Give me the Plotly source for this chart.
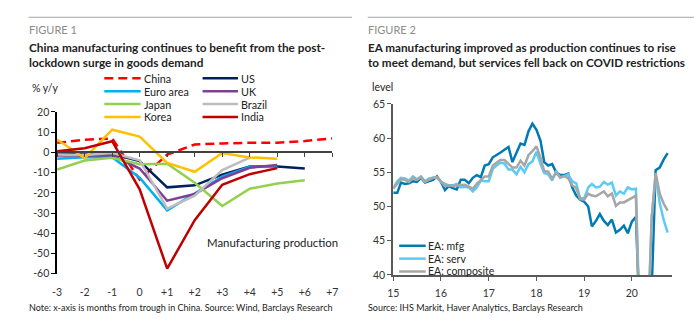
import pandas as pd
import plotly.graph_objects as go

W, H = 700, 324
FONT = "Lato"
TXT = "#222222"


def fx(x):
    """pixel column -> paper x"""
    return x / W


def fy(y):
    """pixel row -> paper y"""
    return 1 - y / H


# ---------------- Figure 1: manufacturing production, % y/y ----------------
rel_months = [-3, -2, -1, 0, 1, 2, 3, 4, 5, 6, 7]
rel_labels = ["-3", "-2", "-1", "0", "+1", "+2", "+3", "+4", "+5", "+6", "+7"]
pct_ticks = [-60, -50, -40, -30, -20, -10, 0, 10, 20]
pct_labels = ["-60", "-50", "-40", "-30", "-20", "-10", "0", "10", "20"]

china = [4.7, 6.2, 6.9, -13.5, -1.1, 3.9, 4.4, 4.8, 4.8, 5.6, 6.9]
us = [-0.5, -1.1, -0.8, -4.3, -17.3, -16.3, -11.0, -7.0, -7.0, -8.0]
euro_area = [-3.2, -2.4, -2.4, -12.5, -28.7, -20.5, -12.0, -7.1, -7.2]
uk = [-1.6, -1.6, -1.6, -8.0, -23.9, -20.6, -12.8, -7.6, -6.3]
japan = [-8.5, -4.0, -2.7, -5.9, -5.6, -15.0, -26.5, -18.0, -15.4, -13.8]
brazil = [-1.1, -1.3, -0.3, -3.9, -27.8, -21.4, -8.8, -2.6]
korea = [6.4, -2.9, 11.2, 7.8, -5.2, -9.6, -0.3, -2.5, -3.1]
india = [0.5, 2.0, 5.5, -18.3, -57.5, -33.5, -16.0, -10.8, -7.8]

fig1_series = [
    ("China", china, "#FF0000", "9px,5px"),
    ("US", us, "#002060", "solid"),
    ("Euro area", euro_area, "#00B0F0", "solid"),
    ("UK", uk, "#7F3F98", "solid"),
    ("Japan", japan, "#92D050", "solid"),
    ("Brazil", brazil, "#BDBDBD", "solid"),
    ("Korea", korea, "#FFC000", "solid"),
    ("India", india, "#C00000", "solid"),
]

# ---------------- Figure 2: EA PMIs, level ----------------
pmi_dates = pd.date_range("2015-01-01", periods=70, freq="MS")

ea_mfg = [
    52.0, 52.0, 53.5, 53.3, 53.4, 53.7, 53.6, 54.2, 53.5, 53.7, 53.9, 54.4,
    53.6, 52.4, 53.0, 52.7, 52.5, 53.9, 53.9, 53.4, 54.2, 54.6, 54.3, 56.0,
    56.2, 57.2, 57.5, 57.9, 58.3, 58.7, 56.5, 57.9, 59.2, 59.0, 61.0, 62.1,
    61.2, 59.6, 56.5, 56.0, 56.2, 55.0, 54.6, 54.6, 54.8, 52.8, 51.6, 51.0,
    50.7, 50.0, 47.1, 47.9, 48.9, 47.9, 47.3, 48.1, 46.2, 46.6, 47.2, 46.1,
    47.8, 48.5, 38.5, 18.2, 31.0, 38.0, 55.3, 55.7, 56.9, 57.8,
]
ea_serv = [
    52.7, 53.7, 54.2, 54.1, 53.8, 54.4, 54.0, 54.4, 53.7, 54.1, 54.2, 54.2,
    53.6, 53.3, 53.1, 53.1, 53.3, 52.8, 52.9, 52.8, 52.2, 52.8, 53.8, 53.7,
    53.7, 55.5, 56.0, 56.4, 56.3, 55.4, 55.4, 54.7, 55.8, 55.0, 56.2, 56.6,
    58.0, 56.2, 54.9, 54.7, 53.8, 55.2, 54.2, 54.4, 54.7, 53.7, 53.4, 51.2,
    51.2, 52.8, 53.3, 52.8, 52.9, 53.6, 53.2, 53.5, 51.6, 52.2, 51.9, 52.8,
    52.5, 52.6, 26.4, 12.0, 30.5, 48.3, 54.7, 50.5, 48.0, 46.2,
]
ea_comp = [
    52.6, 53.3, 54.0, 53.9, 53.6, 54.2, 53.9, 54.3, 53.6, 53.9, 54.2, 54.3,
    53.6, 53.0, 53.1, 53.0, 53.1, 53.1, 53.2, 52.9, 52.6, 53.3, 53.9, 54.4,
    54.4, 56.0, 56.4, 56.8, 56.8, 56.3, 55.7, 55.7, 56.7, 56.0, 57.5, 58.1,
    58.8, 57.1, 55.2, 55.1, 54.1, 54.9, 54.3, 54.5, 54.1, 53.1, 52.7, 51.1,
    51.0, 51.9, 51.6, 51.5, 51.8, 52.2, 51.5, 51.9, 50.1, 50.6, 50.6, 50.9,
    51.3, 51.6, 29.7, 13.6, 31.9, 48.5, 54.9, 51.9, 50.4, 49.4,
]
year_ticks = pd.date_range("2015-01-01", periods=6, freq="YS")
year_labels = ["15", "16", "17", "18", "19", "20"]

fig2_series = [
    ("EA: mfg", ea_mfg, "#007AB2"),
    ("EA: serv", ea_serv, "#5BCBF5"),
    ("EA: composite", ea_comp, "#A6A6A6"),
]

fig = go.Figure()

for name, vals, color, dash in fig1_series:
    fig.add_trace(go.Scatter(
        x=rel_months[:len(vals)], y=vals, mode="lines", name=name,
        line=dict(color=color, width=2.5, dash=dash),
        xaxis="x", yaxis="y", showlegend=False,
    ))

for name, vals, color in fig2_series:
    fig.add_trace(go.Scatter(
        x=pmi_dates, y=vals, mode="lines", name=name,
        line=dict(color=color, width=2.5),
        xaxis="x2", yaxis="y2", showlegend=False,
    ))

# empty trace so the zero-crossing x axis gets drawn
fig.add_trace(go.Scatter(x=[None], y=[None], xaxis="x3", yaxis="y",
                         showlegend=False, hoverinfo="skip"))

# plot-area geometry (pixels)
L1, R1, T1, B1 = 52, 332, 110, 278
L2, R2, T2, B2 = 394, 678, 101.7, 279.3
y1_dom = [fy(B1), fy(T1)]
zero_pos = y1_dom[0] + (0 - (-60)) / 80 * (y1_dom[1] - y1_dom[0])

tickfont = dict(family=FONT, size=10.5, color="#333333")

fig.update_layout(
    width=W, height=H,
    margin=dict(l=0, r=0, t=0, b=0),
    paper_bgcolor="white", plot_bgcolor="white",
    font=dict(family=FONT, color=TXT),
    xaxis=dict(
        domain=[fx(L1), fx(R1)], range=[-3, 7], anchor="y",
        tickvals=rel_months, ticktext=rel_labels, tickfont=tickfont,
        showline=False, showgrid=False, zeroline=False,
        ticks="outside", ticklen=9, tickcolor="rgba(0,0,0,0)",
    ),
    # x axis line crossing at y = 0
    xaxis3=dict(
        domain=[fx(L1), fx(R1)], range=[-3, 7], matches="x", overlaying="x",
        anchor="free", position=zero_pos,
        tickvals=rel_months, showticklabels=False,
        showline=True, linecolor="#404040", linewidth=1.5,
        ticks="outside", ticklen=4, tickcolor="#404040", tickwidth=1.2,
        showgrid=False, zeroline=False,
    ),
    yaxis=dict(
        domain=y1_dom, range=[-60, 20], anchor="x",
        tickvals=pct_ticks, ticktext=pct_labels,
        tickfont=tickfont, showline=True, linecolor="#000000", linewidth=1.5,
        ticks="outside", ticklen=4, tickcolor="#000000",
        showgrid=False, zeroline=False,
    ),
    xaxis2=dict(
        domain=[fx(L2), fx(R2)], type="date",
        range=["2015-01-01", "2020-11-06"], anchor="y2",
        tickvals=year_ticks, ticktext=year_labels, tickfont=tickfont,
        showline=True, linecolor="#595959", linewidth=2,
        ticks="outside", ticklen=4, tickcolor="#595959",
        ticklabelstandoff=3,
        showgrid=False, zeroline=False,
    ),
    yaxis2=dict(
        domain=[fy(B2), fy(T2)], range=[40, 65], anchor="x2", dtick=5,
        tickfont=tickfont, showline=True, linecolor="#595959", linewidth=2,
        ticks="outside", ticklen=4, tickcolor="#595959",
        showgrid=False, zeroline=False,
    ),
)

shapes = []
ann = []


def text(x, y, s, size, color=TXT, xanchor="left", yanchor="middle", bold=False):
    ann.append(dict(
        x=fx(x), y=fy(y), xref="paper", yref="paper", text=s, showarrow=False,
        xanchor=xanchor, yanchor=yanchor, align="left",
        borderpad=0, borderwidth=0,
        font=dict(family=FONT, size=size, color=color,
                  weight="bold" if bold else "normal"),
    ))


def hline(x0, x1, y, color, width, dash="solid"):
    shapes.append(dict(type="line", xref="paper", yref="paper",
                       x0=fx(x0), x1=fx(x1), y0=fy(y), y1=fy(y),
                       line=dict(color=color, width=width, dash=dash)))


# header rules
hline(23, 352, 11.7, "#A6A6A6", 1)
hline(368, 700, 11.7, "#A6A6A6", 1)

# headings
text(23, 24.5, "FIGURE 1", 11, color="#8C8C8C")
text(23, 35, "China manufacturing continues to benefit from the post-<br>"
     "lockdown surge in goods demand", 11.8, yanchor="top", bold=True)
text(368, 24.5, "FIGURE 2", 11, color="#8C8C8C")
text(368, 35, "EA manufacturing improved as production continues to rise<br>"
     "to meet demand, but services fell back on COVID restrictions", 11.7,
     yanchor="top", bold=True)

# axis units
text(26, 85, "% y/y", 10.5)
text(372, 84, "level", 10.5)

# Figure 1 key (two columns)
rows = [75, 88.4, 101.8, 115.2]
cols = [(100, 137, 140), (200, 236, 239)]
for i, (name, vals, color, dash) in enumerate(fig1_series):
    c = cols[i % 2]
    r = rows[i // 2]
    hline(c[0], c[1], r, color, 2.5, dash)
    text(c[2], r, name, 10.8)

# Figure 2 key (inside plot, bottom left)
for i, (name, vals, color) in enumerate(fig2_series):
    r = 249 + i * 13.35
    hline(400, 427, r, color, 2.5)
    text(429, r, name, 10.5)

text(204, 246, "Manufacturing production", 11.4)

# footers
text(23, 313, "Note: x-axis is months from trough in China. Source: Wind, Barclays Research", 9.0)
text(368, 313, "Source: IHS Markit, Haver Analytics, Barclays Research", 9.0)

fig.update_layout(shapes=shapes, annotations=ann)
fig.write_html("out.html")
